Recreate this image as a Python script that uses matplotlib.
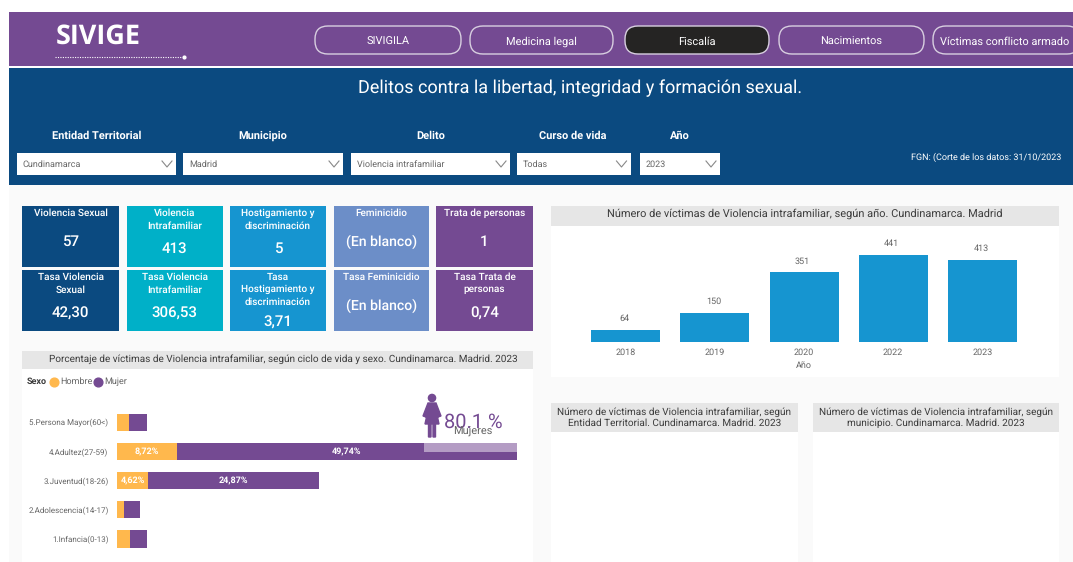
import matplotlib
matplotlib.use("Agg")
import matplotlib.pyplot as plt
from matplotlib.patches import Rectangle, FancyBboxPatch, Circle, Polygon

W, H = 1073, 562

# datos
button_labels = ["SIVIGILA", "Medicina legal", "Fiscalía", "Nacimientos", "Víctimas conflicto armado"]
slicer_titles = ["Entidad Territorial", "Municipio", "Delito", "Curso de vida", "Año"]
slicer_values = ["Cundinamarca", "Madrid", "Violencia intrafamiliar", "Todas", "2023"]

card_titles_1 = ["Violencia Sexual", "Violencia\nIntrafamiliar", "Hostigamiento y\ndiscriminación", "Feminicidio", "Trata de personas"]
card_values_1 = ["57", "413", "5", "(En blanco)", "1"]
card_titles_2 = ["Tasa Violencia\nSexual", "Tasa Violencia\nIntrafamiliar", "Tasa\nHostigamiento y\ndiscriminación", "Tasa Feminicidio", "Tasa Trata de\npersonas"]
card_values_2 = ["42,30", "306,53", "3,71", "(En blanco)", "0,74"]

ciclo_vida = ["5.Persona Mayor(60<)", "4.Adultez(27-59)", "3.Juventud(18-26)", "2.Adolescencia(14-17)", "1.Infancia(0-13)"]
hombre = [1.76, 8.72, 4.62, 1.03, 2.00]
mujer = [2.59, 49.74, 24.87, 2.29, 2.34]

anios = ["2018", "2019", "2020", "2022", "2023"]
victimas = [64, 150, 351, 441, 413]

PURPLE = "#744a92"
NAVY = "#0b4a80"
TEAL = "#00b0c8"
BLUE = "#1695d0"
PERI = "#6c8ec8"
ORANGE = "#ffb84d"
BAND = "#e6e6e6"
DARK = "#3c3c3c"
GREY = "#666666"
plt.rcParams["font.family"] = "Roboto"
plt.rcParams["text.hinting"] = "no_hinting"
plt.rcParams["text.hinting_factor"] = 1


def axes_px(x0, y0, x1, y1, z=1):
    ax = fig.add_axes([x0 / W, 1 - y1 / H, (x1 - x0) / W, (y1 - y0) / H], zorder=z)
    ax.patch.set_alpha(0)
    return ax


fig = plt.figure(figsize=(W / 100, H / 100), dpi=100, facecolor="white")
bg = axes_px(0, 0, W, H, 0)
bg.set_xlim(0, W)
bg.set_ylim(H, 0)
bg.axis("off")


def rect(ax, x0, y0, x1, y1, color, **kw):
    ax.add_patch(Rectangle((x0, y0), x1 - x0, y1 - y0, facecolor=color, edgecolor="none", **kw))


# cabecera
rect(bg, 9, 68, W, H, "#fafafa")
rect(bg, 9, 12, W, 66, PURPLE)
rect(bg, 9, 68, W, 185, NAVY)
bg.text(56, 37, "SIVIGE", color="white", fontsize=19.5, fontweight="bold", family="Open Sans", va="center")
bg.plot([55, 182], [57, 57], color="white", lw=0.8, ls=(0, (1, 1.2)))
bg.plot([184], [57], "o", color="white", ms=2)

button_x = [(315, 461), (470, 613), (625, 769), (779, 924), (933, 1080)]
for i, (label, (x0, x1)) in enumerate(zip(button_labels, button_x)):
    active = label == "Fiscalía"
    bg.add_patch(FancyBboxPatch((x0, 26), x1 - x0, 28, boxstyle="round,pad=0,rounding_size=13",
                                facecolor="#252423" if active else PURPLE, edgecolor="#d8cfe0", lw=1))
    cx = 1005 if i == 4 else (x0 + x1) / 2
    bg.text(cx, 44.5, label, color="white", fontsize=8.2, ha="center", va="baseline")

bg.text(580, 88, "Delitos contra la libertad, integridad y formación sexual.", color="white",
        fontsize=12.9, ha="center", va="center")

# filtros
slicer_x = [(16.5, 176), (183, 343), (351, 510), (516.5, 630.5), (640, 720)]
slicer_cx = [97, 263, 431, 573, 680]
for title, value, (x0, x1), cx in zip(slicer_titles, slicer_values, slicer_x, slicer_cx):
    bg.text(cx, 136, title, color="white", fontsize=8, fontweight="bold", ha="center", va="center")
    rect(bg, x0, 153, x1, 175, "white")
    bg.text(x0 + 6, 164, value, color=GREY, fontsize=6.3, va="center")
    bg.plot([x1 - 14, x1 - 9, x1 - 4], [161, 167, 161], color="#888888", lw=0.8)
bg.text(911, 157.5, "FGN: (Corte de los datos: 31/10/2023", color="white", fontsize=6.7, va="center")

# tarjetas
card_x = [(22, 119), (127, 222.5), (230, 326), (334, 428.5), (436, 533)]
card_colors = [NAVY, TEAL, BLUE, PERI, PURPLE]
value_y_1 = [241.5, 249, 249, 242, 242]
value_y_2 = [313, 313, 322, 306, 313]
rows = [(206, 267, card_titles_1, card_values_1, value_y_1), (270, 331, card_titles_2, card_values_2, value_y_2)]
for y0, y1, titles, values, value_y in rows:
    for (x0, x1), color, title, value, vy in zip(card_x, card_colors, titles, values, value_y):
        rect(bg, x0, y0, x1, y1, color)
        for k, line in enumerate(title.split("\n")):
            bg.text((x0 + x1) / 2, y0 + 7 + k * 12.7, line, color="white", fontsize=7.4, fontweight="medium",
                    ha="center", va="center")
        bg.text((x0 + x1) / 2, vy, value, color="white", ha="center", va="center", fontweight="medium",
                fontsize=10 if "blanco" in value else 10.8)

# paneles y titulos
rect(bg, 22, 351, 533, H, "white")
rect(bg, 22, 351, 533, 369, BAND)
bg.text(283, 359, "Porcentaje de víctimas de Violencia intrafamiliar, según ciclo de vida y sexo. Cundinamarca. Madrid. 2023",
        color=DARK, fontsize=7.5, ha="center", va="center")

bg.text(26.5, 381.5, "Sexo", color=DARK, fontsize=6.2, fontweight="bold", va="center")
bg.plot([54], [381.5], "o", color=ORANGE, ms=6.3)
bg.text(60, 381.5, "Hombre", color=GREY, fontsize=6.8, va="center")
bg.plot([98], [381.5], "o", color=PURPLE, ms=6.3)
bg.text(104, 381.5, "Mujer", color=GREY, fontsize=6.8, va="center")

rect(bg, 551, 206, 1059, 377, "white")
rect(bg, 551, 206, 1059, 225.5, BAND)
bg.text(805, 214, "Número de víctimas de Violencia intrafamiliar, según año. Cundinamarca. Madrid",
        color=DARK, fontsize=7.9, ha="center", va="center")

rect(bg, 551, 403, 798, H, "white")
rect(bg, 551, 403, 798, 432, BAND)
bg.text(674.5, 417.5, "Número de víctimas de Violencia intrafamiliar, según\nEntidad Territorial. Cundinamarca. Madrid. 2023",
        color=DARK, fontsize=7.3, ha="center", va="center", linespacing=1.25)
rect(bg, 813, 403, 1059, H, "white")
rect(bg, 813, 403, 1059, 432, BAND)
bg.text(936, 417.5, "Número de víctimas de Violencia intrafamiliar, según\nmunicipio. Cundinamarca. Madrid. 2023",
        color=DARK, fontsize=7.3, ha="center", va="center", linespacing=1.25)

# barras ciclo de vida
ax1 = axes_px(116.8, 407.7, 517.2, 553.6)
ypos = list(range(len(ciclo_vida)))
ax1.barh(ypos, hombre, height=0.59, color=ORANGE)
ax1.barh(ypos, mujer, left=hombre, height=0.59, color=PURPLE)
ax1.set_xlim(0, 58.46)
ax1.set_ylim(4.5, -0.5)
ax1.set_xticks([])
ax1.set_yticks(ypos)
ax1.set_yticklabels(ciclo_vida, color=GREY, fontsize=6)
ax1.tick_params(axis="y", length=0, pad=6)
for s in ax1.spines.values():
    s.set_visible(False)
for i, (h, m) in enumerate(zip(hombre, mujer)):
    if m > 10:
        ax1.text(h / 2, i, f"{h:.2f}%".replace(".", ","), color="white", fontsize=6.5, fontweight="bold", ha="center", va="center")
        ax1.text(h + m / 2, i, f"{m:.2f}%".replace(".", ","), color="white", fontsize=6.5, fontweight="bold", ha="center", va="center")

# barras por año
ax2 = axes_px(581.2, 254.5, 1026.9, 342.4)
xpos = list(range(len(anios)))
ax2.bar(xpos, victimas, width=0.774, color=BLUE)
ax2.set_xlim(-0.5, 4.5)
ax2.set_ylim(0, 441)
ax2.set_yticks([])
ax2.set_xticks(xpos)
ax2.set_xticklabels(anios, color=GREY, fontsize=6.5)
ax2.tick_params(axis="x", length=0, pad=4)
ax2.set_xlabel("Año", color=GREY, fontsize=6.8, labelpad=3)
for s in ax2.spines.values():
    s.set_visible(False)
for x, v in zip(xpos, victimas):
    ax2.annotate(str(v), (x, v), xytext=(-1, 5), textcoords="offset points", color=GREY, fontsize=6.2, ha="center", va="bottom")

# icono y porcentaje sobre las barras
top = axes_px(0, 0, W, H, 5)
top.set_xlim(0, W)
top.set_ylim(H, 0)
top.axis("off")
rect(top, 424.4, 443, 517, 451.5, "#b49cc4")
top.add_patch(Circle((432, 398), 3.6, color=PURPLE))
top.add_patch(Polygon([(428, 403), (436, 403), (441, 416), (438, 417), (436, 410), (439, 424), (435.5, 424),
                       (435.5, 437), (433, 437), (433, 424), (431, 424), (431, 437), (428.5, 437), (428.5, 424),
                       (425, 424), (428, 410), (426, 417), (423, 416)], color=PURPLE))
top.text(444, 422, "80.1 %", color=PURPLE, fontsize=14.5, va="center")
top.text(473, 432, "Mujeres", color=GREY, fontsize=8, ha="center", va="center")

fig.savefig("out.png", dpi=100)
